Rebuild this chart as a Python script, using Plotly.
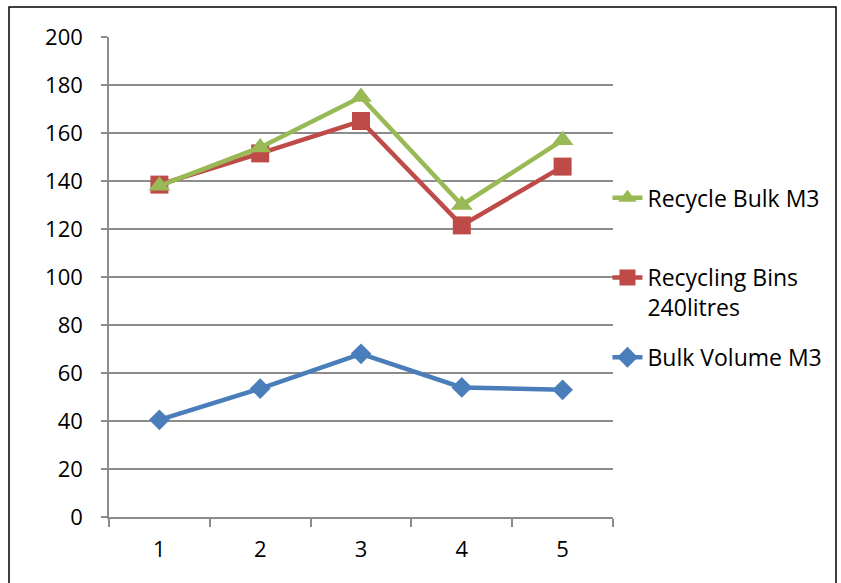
import plotly.graph_objects as go

categories = ["1", "2", "3", "4", "5"]
bulk_volume = [40.5, 53.5, 68, 54, 53]
recycling_bins = [138.5, 151.5, 165, 121.5, 146]
recycle_bulk = [138, 154, 175, 130, 157]
y_ticks = [0, 20, 40, 60, 80, 100, 120, 140, 160, 180, 200]

FONT = "Open Sans"
GRID = "#8c8c8c"

fig = go.Figure()
fig.add_trace(go.Scatter(
    x=categories, y=bulk_volume, name="Bulk Volume M3", legendgroup="c", legendrank=3,
    mode="lines+markers", line=dict(color="#4a7ebb", width=4.5),
    marker=dict(symbol="diamond", size=16, color="#4a7ebb")))
fig.add_trace(go.Scatter(
    x=categories, y=recycling_bins, name="Recycling Bins<br>240litres", legendgroup="b", legendrank=2,
    mode="lines+markers", line=dict(color="#be4b48", width=4.5),
    marker=dict(symbol="square", size=18, color="#be4b48")))
fig.add_trace(go.Scatter(
    x=categories, y=recycle_bulk, name="Recycle Bulk M3<br>&nbsp;", legendgroup="a", legendrank=1,
    mode="lines+markers", line=dict(color="#98b954", width=4.5),
    marker=dict(symbol="triangle-up", size=19, color="#98b954")))

fig.update_layout(
    width=841, height=583,
    margin=dict(l=109, r=228, t=37, b=66),
    paper_bgcolor="white", plot_bgcolor="white",
    font=dict(family=FONT, size=22, color="black"),
    showlegend=True,
    legend=dict(x=0.989, xanchor="left", y=0.71, yanchor="top",
                traceorder="grouped", tracegroupgap=17, valign="top",
                font=dict(family=FONT, size=23, color="black"),
                bgcolor="rgba(0,0,0,0)"),
    xaxis=dict(type="category", range=[-0.5, 4.5], tickson="boundaries", ticks="outside", ticklen=8,
               tickcolor=GRID, tickwidth=1.5, showline=True, linecolor=GRID, linewidth=1.5,
               showgrid=False, tickfont=dict(size=22), ticklabelstandoff=12),
    yaxis=dict(range=[0, 200], tickvals=y_ticks, ticks="outside", ticklen=6,
               tickcolor=GRID, tickwidth=1.5, showline=True, linecolor=GRID, linewidth=1.5,
               showgrid=True, gridcolor=GRID, gridwidth=1.5, zeroline=False,
               tickfont=dict(size=22), ticklabelstandoff=14),
    shapes=[dict(type="rect", xref="paper", yref="paper", layer="above",
                 x0=-100/504, x1=727/504, y0=-80/480, y1=510/480,
                 line=dict(color="black", width=1.5))],
)

fig.write_html("out.html")
